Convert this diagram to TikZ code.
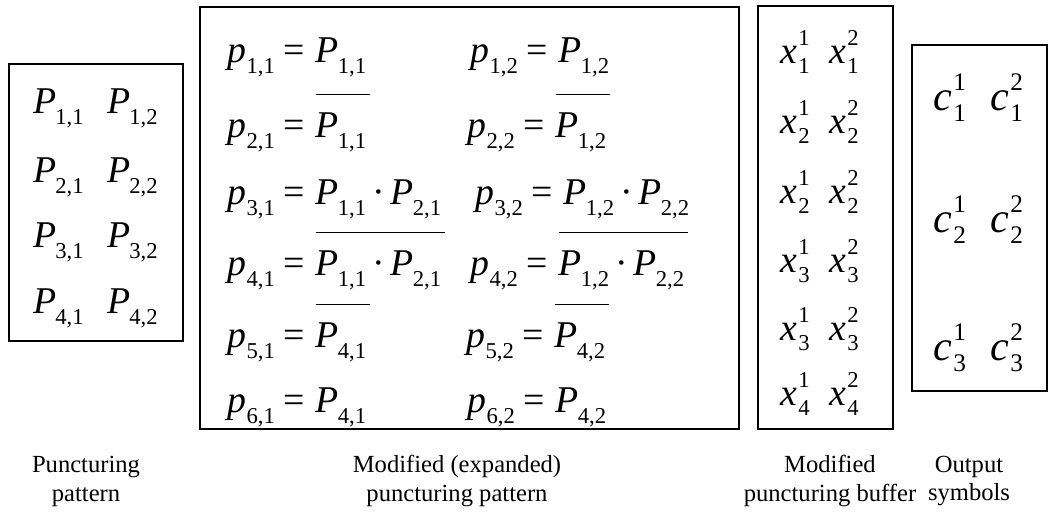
\documentclass[tikz,border=0pt]{standalone}
\usepackage{fontspec}
\usepackage{graphicx}
\setmainfont{Liberation Serif}[ItalicFont={Liberation Serif Italic}]
% indexed symbols set in text mode
\newcommand{\Pent}[1]{{\itshape P}\kern-0.03em\raisebox{-0.3em}{\scalebox{0.6}{#1}}}
\newcommand{\pent}[1]{{\itshape p}\kern0.01em\raisebox{-0.3em}{\scalebox{0.6}{#1}}}
\newcommand{\supsub}[3]{{\itshape #1}\kern0.03em\rlap{\raisebox{0.47em}{\scalebox{0.6}{#2}}}\raisebox{-0.27em}{\scalebox{0.6}{#3}}}
\newcommand{\eqs}{\hspace{0.22em}=\hspace{0.3em}}
\newcommand{\dotp}{\hspace{0.16em}·\hspace{0.16em}}
\newcommand{\ovl}[1]{$\overline{\rule{0pt}{23pt}\hbox{#1\kern0.1em}}$}

\begin{document}
\begin{tikzpicture}[x=0.02cm,y=-0.02cm,
    box/.style={draw,line width=0.7pt},
    ent/.style={anchor=base west,inner sep=0pt,font=\fontsize{21.5}{25}\selectfont},
    big/.style={anchor=base west,inner sep=0pt,font=\fontsize{24}{28}\selectfont},
    lbl/.style={align=center,inner sep=0pt,font=\fontsize{14}{16.5}\selectfont}]
  \useasboundingbox (0,0) rectangle (1048,521);
  % frames
  \draw[box] (9,64) rectangle (183,341);
  \draw[box] (200,7) rectangle (739,429);
  \draw[box] (758,6) rectangle (893,429);
  \draw[box] (912,45) rectangle (1047,391);
  % puncturing pattern
  \foreach \r/\y in {1/113,2/182,3/247,4/313} {
    \node[ent] (P\r1) at (33,\y) {\Pent{\r,1}};
    \node[ent] (P\r2) at (107,\y) {\Pent{\r,2}};
  }
  % modified (expanded) pattern
  \node[ent] (p11) at (227,62) {\pent{1,1}\eqs\Pent{1,1}};
  \node[ent] (p12) at (470,62) {\pent{1,2}\eqs\Pent{1,2}};
  \node[ent] (p21) at (227,137) {\pent{2,1}\eqs\ovl{\Pent{1,1}}};
  \node[ent] (p22) at (467,137) {\pent{2,2}\eqs\ovl{\Pent{1,2}}};
  \node[ent] (p31) at (227,204) {\pent{3,1}\eqs\Pent{1,1}\dotp\Pent{2,1}};
  \node[ent] (p32) at (475,204) {\pent{3,2}\eqs\Pent{1,2}\dotp\Pent{2,2}};
  \node[ent] (p41) at (227,275) {\pent{4,1}\eqs\ovl{\Pent{1,1}\dotp\Pent{2,1}}};
  \node[ent] (p42) at (470,275) {\pent{4,2}\eqs\ovl{\Pent{1,2}\dotp\Pent{2,2}}};
  \node[ent] (p51) at (227,347) {\pent{5,1}\eqs\ovl{\Pent{4,1}}};
  \node[ent] (p52) at (466,347) {\pent{5,2}\eqs\ovl{\Pent{4,2}}};
  \node[ent] (p61) at (227,412) {\pent{6,1}\eqs\Pent{4,1}};
  \node[ent] (p62) at (467,412) {\pent{6,2}\eqs\Pent{4,2}};
  % buffer
  \foreach \k/\i/\y in {1/1/63,2/2/133,3/2/203,4/3/272,5/3/340,6/4/405} {
    \node[ent] (x\k a) at (780,\y) {\supsub{x}{1}{\i}};
    \node[ent] (x\k b) at (829,\y) {\supsub{x}{2}{\i}};
  }
  % output symbols
  \foreach \i/\y in {1/110,2/232,3/360} {
    \node[big] (c\i a) at (933,\y) {\supsub{c}{1}{\i}};
    \node[big] (c\i b) at (990,\y) {\supsub{c}{2}{\i}};
  }
  % captions
  \node[lbl] (l1) at (86,481) {Puncturing\\pattern};
  \node[lbl] (l2) at (457,481) {Modified (expanded)\\puncturing pattern};
  \node[lbl] (l3) at (830,481) {Modified\\puncturing buffer};
  \node[lbl] (l4) at (969,481) {Output\\symbols};
\end{tikzpicture}
\end{document}
